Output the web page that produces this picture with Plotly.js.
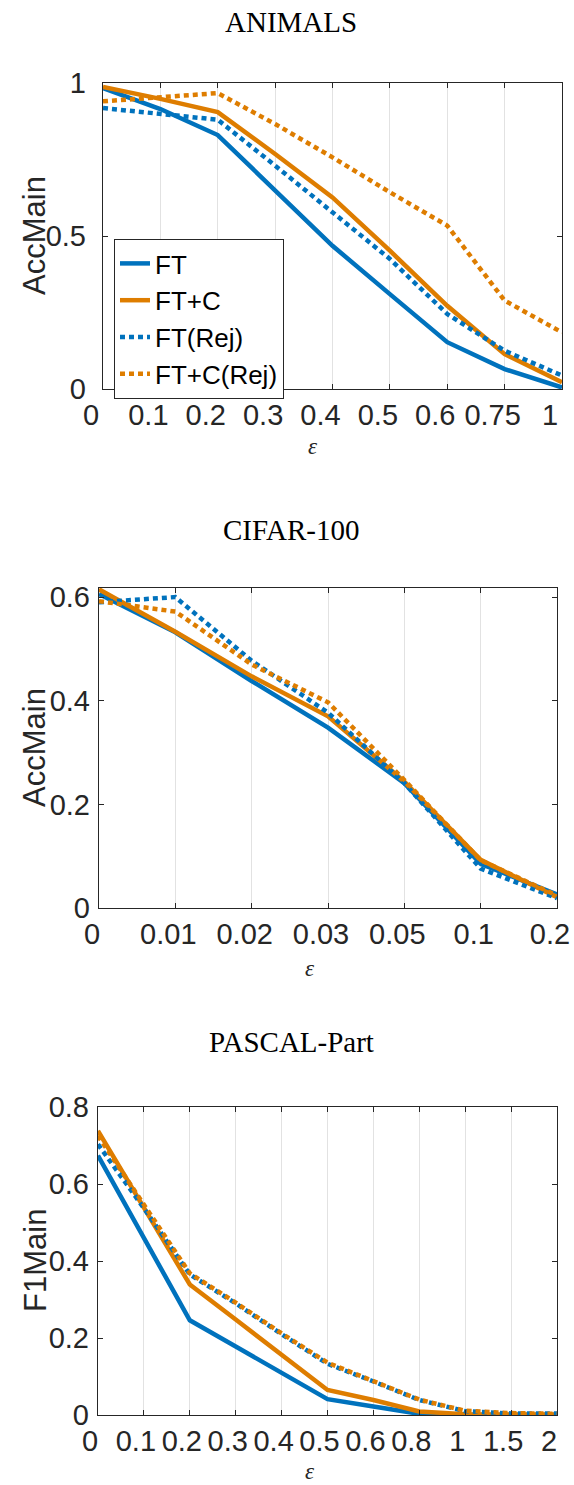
<!DOCTYPE html>
<html>
<head>
<meta charset="utf-8">
<script src="https://cdn.plot.ly/plotly-3.0.1.min.js"></script>
<style>html,body{margin:0;padding:0;background:#fff;}#chart{width:574px;height:1485px;}</style>
</head>
<body>
<div id="chart"></div>
<script>
// ---------- data ----------
const seriesNames = ["FT", "FT+C", "FT(Rej)", "FT+C(Rej)"];

const epsAnimals = ["0","0.1","0.2","0.3","0.4","0.5","0.6","0.75","1"];
const animalsFT     = [0.983,0.915,0.830,0.648,0.468,0.310,0.153,0.065,0.005];
const animalsFTC    = [0.987,0.948,0.905,0.768,0.626,0.452,0.272,0.114,0.022];
const animalsFTRej  = [0.918,0.900,0.880,0.730,0.577,0.425,0.245,0.125,0.044];
const animalsFTCRej = [0.940,0.954,0.967,0.866,0.757,0.643,0.534,0.289,0.185];

const epsCifar = ["0","0.01","0.02","0.03","0.05","0.1","0.2"];
const cifarFT     = [0.606,0.532,0.438,0.348,0.241,0.085,0.026];
const cifarFTC    = [0.615,0.533,0.447,0.370,0.244,0.093,0.021];
const cifarFTRej  = [0.590,0.600,0.477,0.377,0.241,0.076,0.019];
const cifarFTCRej = [0.592,0.572,0.470,0.397,0.247,0.092,0.024];

const epsPascal = ["0","0.1","0.2","0.3","0.4","0.5","0.6","0.8","1","1.5","2"];
const pascalFT     = [0.674,0.460,0.246,0.178,0.109,0.041,0.022,0.003,0.000,0.000,0.000];
const pascalFTC    = [0.738,0.541,0.339,0.248,0.157,0.065,0.039,0.009,0.002,0.001,0.001];
const pascalFTRej  = [0.703,0.537,0.365,0.290,0.210,0.133,0.087,0.039,0.010,0.004,0.004];
const pascalFTCRej = [0.725,0.545,0.368,0.292,0.212,0.136,0.088,0.040,0.011,0.005,0.003];

const titles = ["ANIMALS", "CIFAR-100", "PASCAL-Part"];
const yLabels = ["AccMain", "AccMain", "F1Main"];
const xLabel = "ε";

// ---------- style ----------
const BLUE = "#0072BD", ORANGE = "#DE7D00";
const styles = [
  {color: BLUE, dash: "solid"},
  {color: ORANGE, dash: "solid"},
  {color: BLUE, dash: "5px,4px"},
  {color: ORANGE, dash: "5px,4px"}
];
const LW = 4.5;
const AXC = "#262626";

const panels = [
  {x: epsAnimals, ys: [animalsFT, animalsFTC, animalsFTRej, animalsFTCRej]},
  {x: epsCifar,   ys: [cifarFT, cifarFTC, cifarFTRej, cifarFTCRej]},
  {x: epsPascal,  ys: [pascalFT, pascalFTC, pascalFTRej, pascalFTCRej]}
];

const traces = [];
panels.forEach((p, pi) => {
  p.ys.forEach((y, si) => {
    traces.push({
      type: "scatter", mode: "lines",
      x: p.x, y: y,
      name: seriesNames[si],
      showlegend: pi === 0,
      xaxis: pi === 0 ? "x" : "x" + (pi + 1),
      yaxis: pi === 0 ? "y" : "y" + (pi + 1),
      line: {color: styles[si].color, width: LW, dash: styles[si].dash}
    });
  });
});

const W = 574, H = 1485;
function px(v) { return v / W; }
function py(v) { return 1 - v / H; }

// axes boxes in pixels [left, right, top, bottom]
const boxes = [
  [103, 562, 83, 389],
  [99, 557, 588, 908],
  [98, 557, 1107, 1415]
];
const yRanges = [[0, 1], [0, 0.6175], [0, 0.8]];
const yTicks = [[0, 0.5, 1], [0, 0.2, 0.4, 0.6], [0, 0.2, 0.4, 0.6, 0.8]];
const yTickText = [["0", "0.5", "1"], ["0", "0.2", "0.4", "0.6"], ["0", "0.2", "0.4", "0.6", "0.8"]];
const xShift = [-12, -7, -8];
const yStandoff = [10, 2, 2];
const titleY = [22, 530, 1042];
const epsY = [446, 968, 1471];
const epsX = [313, 310, 310];

const tickFont = {family: "Liberation Sans, Arial, sans-serif", size: 29, color: AXC};

const layout = {
  width: W, height: H,
  margin: {l: 0, r: 0, t: 0, b: 0},
  paper_bgcolor: "#ffffff", plot_bgcolor: "#ffffff",
  showlegend: true,
  legend: {
    x: px(114), y: py(239), xanchor: "left", yanchor: "top",
    bgcolor: "#ffffff", bordercolor: AXC, borderwidth: 1,
    font: {family: "Liberation Sans, Arial, sans-serif", size: 26, color: "#000000"},
    tracegroupgap: 0
  },
  annotations: []
};

boxes.forEach((b, i) => {
  const sfx = i === 0 ? "" : String(i + 1);
  const labels = panels[i].x;
  layout["xaxis" + sfx] = {
    domain: [px(b[0]), px(b[1])],
    anchor: "y" + sfx,
    type: "category",
    range: [0, labels.length - 1],
    showgrid: true, gridcolor: "#e2e2e2", gridwidth: 1,
    zeroline: false,
    showline: true, linecolor: AXC, linewidth: 1.2, mirror: "ticks",
    ticks: "inside", ticklen: 5, tickcolor: AXC, tickwidth: 1,
    tickfont: tickFont,
    ticklabelshift: xShift[i],
    fixedrange: true
  };
  layout["yaxis" + sfx] = {
    domain: [py(b[3]), py(b[2])],
    anchor: "x" + sfx,
    range: yRanges[i],
    tickvals: yTicks[i], ticktext: yTickText[i],
    showgrid: false, zeroline: false,
    showline: true, linecolor: AXC, linewidth: 1.2, mirror: "ticks",
    ticks: "inside", ticklen: 5, tickcolor: AXC, tickwidth: 1,
    tickfont: tickFont,
    ticklabelstandoff: yStandoff[i],
    fixedrange: true
  };
  layout.annotations.push({
    text: titles[i], xref: "paper", yref: "paper",
    x: px(291), y: py(titleY[i]), xanchor: "center", yanchor: "middle",
    showarrow: false,
    font: {family: "Liberation Serif, 'DejaVu Serif', serif", size: 29, color: "#000000"}
  });
  layout.annotations.push({
    text: yLabels[i], xref: "paper", yref: "paper",
    x: px(35), y: py((b[2] + b[3]) / 2), xanchor: "center", yanchor: "middle",
    textangle: -90, showarrow: false,
    font: {family: "Liberation Sans, Arial, sans-serif", size: 31, color: AXC}
  });
  layout.annotations.push({
    text: "<i>" + xLabel + "</i>", xref: "paper", yref: "paper",
    x: px(epsX[i]), y: py(epsY[i]), xanchor: "center", yanchor: "middle",
    showarrow: false, borderpad: 0,
    font: {family: "Liberation Serif, 'DejaVu Serif', serif", size: 23, color: AXC}
  });
});

Plotly.newPlot("chart", traces, layout, {displayModeBar: false, staticPlot: true});
</script>
</body>
</html>
